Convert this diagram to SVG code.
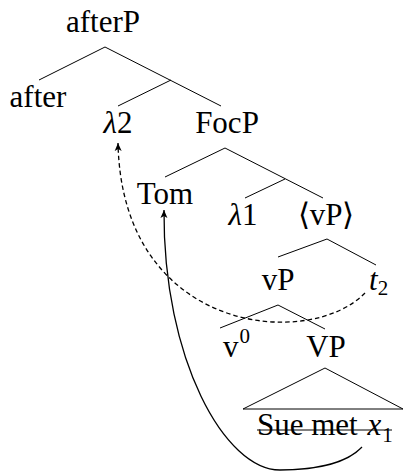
<svg xmlns="http://www.w3.org/2000/svg" width="404" height="471" viewBox="0 0 404 471">
  <style>
    text { font-family: "Liberation Serif", "Times New Roman", serif; font-size: 31px; fill: #000; }
    .lbl { text-anchor: middle; }
    .it { font-style: italic; }
    .sub { font-size: 21px; }
    .edge { stroke: #000; stroke-width: 1; fill: none; }
    .move { stroke: #000; stroke-width: 1.3; fill: none; }
    .dashed { stroke-dasharray: 4.5 3; }
  </style>
  <defs>
    <marker id="tip" markerUnits="userSpaceOnUse" markerWidth="12" markerHeight="10" refX="8" refY="4" orient="auto">
      <path d="M8,4 L0,0.5 L2,4 L0,7.5 Z" fill="#000"/>
    </marker>
  </defs>

  <!-- tree edges and movement arrows -->
  <g id="connectors">
    <line class="edge" x1="105" y1="47" x2="39" y2="80"/>
    <line class="edge" x1="105" y1="47" x2="221" y2="106"/>
    <line class="edge" x1="171" y1="80" x2="118" y2="106"/>
    <line class="edge" x1="225" y1="148" x2="165" y2="177"/>
    <line class="edge" x1="225" y1="148" x2="323" y2="198"/>
    <line class="edge" x1="285" y1="179" x2="245" y2="198"/>
    <line class="edge" x1="327" y1="239" x2="278" y2="257"/>
    <line class="edge" x1="327" y1="239" x2="376" y2="265"/>
    <line class="edge" x1="278" y1="305" x2="220" y2="328"/>
    <line class="edge" x1="278" y1="305" x2="325" y2="329"/>
    <path class="edge" d="M325,368 L243,409 L403,409 Z"/>
    <!-- t2 raised to lambda-2 -->
    <path class="move dashed" d="M365,293 C310,350 122,335 118,143" marker-end="url(#tip)"/>
    <!-- x1 raised to Tom -->
    <path class="move" d="M362,447 C345,465 310,470 280,470 C225,470 163,360 164,210" marker-end="url(#tip)"/>
  </g>

  <g id="afterP"><text class="lbl" x="103" y="32">afterP</text></g>
  <g id="after"><text class="lbl" x="38" y="107">after</text></g>
  <g id="lambda2"><text class="lbl" x="118" y="133"><tspan class="it">λ</tspan>2</text></g>
  <g id="FocP"><text class="lbl" x="227" y="133">FocP</text></g>
  <g id="Tom"><text class="lbl" x="165" y="204">Tom</text></g>
  <g id="lambda1"><text class="lbl" x="243" y="225"><tspan class="it">λ</tspan>1</text></g>
  <g id="vP-copy"><text class="lbl" x="326" y="225">⟨vP⟩</text></g>
  <g id="vP"><text class="lbl" x="278" y="290">vP</text></g>
  <g id="t2"><text x="369" y="290"><tspan class="it">t</tspan><tspan class="sub" dy="5">2</tspan></text></g>
  <g id="v0"><text x="223" y="357">v<tspan class="sub" dy="-14" dx="1">0</tspan></text></g>
  <g id="VP"><text class="lbl" x="326" y="357">VP</text></g>
  <g id="SueMet">
    <text x="257" y="435">Sue met <tspan class="it" dx="2">x</tspan><tspan class="sub" dy="7" dx="1">1</tspan></text>
    <line class="edge" x1="257" y1="430" x2="392" y2="430"/>
  </g>
</svg>
